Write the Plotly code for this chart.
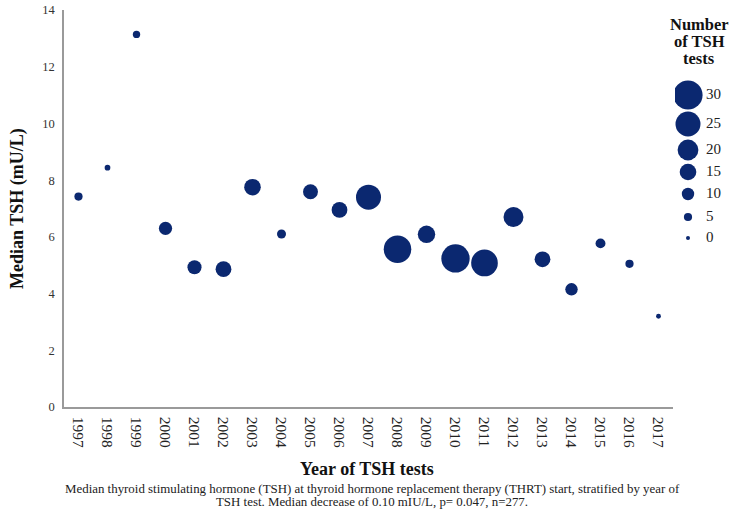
import plotly.graph_objects as go

years = [str(y) for y in range(1997, 2018)]
median_tsh = [7.42, 8.44, 13.14, 6.30, 4.93, 4.86, 7.75, 6.10, 7.59, 6.95, 7.40,
              5.56, 6.09, 5.24, 5.08, 6.70, 5.21, 4.15, 5.77, 5.05, 3.20]
n_tests = [5, 2, 4, 11, 12, 14, 15, 6, 13, 14, 25, 28, 16, 29, 27, 19, 14, 10, 7, 5, 1]
legend_counts = [30, 25, 20, 15, 10, 5, 0]

COLOR = "#0b2870"
FONT = "Liberation Serif"
OFF = 0  # page body margin removed via post_script
W, H = 736 - OFF, 519 - OFF
AX_LEFT, AX_TOP, AX_BOTTOM, AX_RIGHT = 64, 10, 407, 673  # reference pixels
L, T = AX_LEFT - OFF, AX_TOP - OFF
B = H - (AX_BOTTOM - OFF)
R = 0
PW, PH = W - L - R, H - T - B


def size_of(n):
    return 4 + 0.84 * n


def px_x(ref_px):
    return (ref_px - OFF - L) / PW


def px_y(ref_py):
    return (AX_BOTTOM - ref_py) / PH


fig = go.Figure()
fig.add_trace(go.Scatter(
    x=years, y=median_tsh, mode="markers",
    marker=dict(size=[size_of(n) for n in n_tests], color=COLOR, opacity=1, line=dict(width=0)),
    showlegend=False, hoverinfo="x+y",
))

# size legend on a helper axis expressed in reference-pixel units
leg_y = [95, 124, 150, 172, 194, 217, 238]
x2_lo = AX_RIGHT + 2
fig.add_trace(go.Scatter(
    x=[688] * len(legend_counts), y=leg_y, mode="markers",
    marker=dict(size=[size_of(n) for n in legend_counts], color=COLOR, opacity=1, line=dict(width=0)),
    xaxis="x2", yaxis="y2", showlegend=False, hoverinfo="skip",
))
fig.add_trace(go.Scatter(
    x=[706] * len(legend_counts), y=leg_y, mode="text",
    text=[str(n) for n in legend_counts], textposition="middle right",
    textfont=dict(family=FONT, size=15, color="#222"),
    xaxis="x2", yaxis="y2", showlegend=False, hoverinfo="skip",
))

annotations = []
for txt, py in [("Number", 24), ("of TSH", 41), ("tests", 58)]:
    annotations.append(dict(text=f"<b>{txt}</b>", x=px_x(699), y=px_y(py), xref="paper", yref="paper",
                            xanchor="center", yanchor="middle", showarrow=False,
                            font=dict(family=FONT, size=16.5, color="#111")))
annotations.append(dict(text="<b>Median TSH (mU/L)</b>", x=px_x(18), y=px_y(209), xref="paper", yref="paper",
                        textangle=-90, xanchor="center", yanchor="middle", showarrow=False,
                        font=dict(family=FONT, size=18, color="#111")))
annotations.append(dict(text="<b>Year of TSH tests</b>", x=px_x(367), y=px_y(469), xref="paper", yref="paper",
                        xanchor="center", yanchor="middle", showarrow=False,
                        font=dict(family=FONT, size=18, color="#111")))
annotations.append(dict(text="Median thyroid stimulating hormone (TSH) at thyroid hormone replacement therapy (THRT) start, stratified by year of",
                        x=px_x(372), y=px_y(489), xref="paper", yref="paper",
                        xanchor="center", yanchor="middle", showarrow=False,
                        font=dict(family=FONT, size=12.9, color="#222")))
annotations.append(dict(text="TSH test. Median decrease of 0.10 mIU/L, p= 0.047, n=277.",
                        x=px_x(372), y=px_y(502), xref="paper", yref="paper",
                        xanchor="center", yanchor="middle", showarrow=False,
                        font=dict(family=FONT, size=12.9, color="#222")))

fig.update_layout(
    width=W, height=H, margin=dict(l=L, r=R, t=T, b=B, pad=0, autoexpand=False),
    paper_bgcolor="white", plot_bgcolor="white",
    font=dict(family=FONT, color="#222"),
    xaxis=dict(type="category", domain=[0, px_x(AX_RIGHT)], range=[-0.5, 20.5],
               showline=True, linecolor="#9a9a9a", linewidth=1.5, showgrid=False, zeroline=False,
               ticks="outside", ticklen=5, tickcolor="rgba(0,0,0,0)", tickangle=90,
               automargin=False,
               tickfont=dict(family=FONT, size=15.5, color="#222")),
    yaxis=dict(range=[0, 14], dtick=2, showline=True, linecolor="#9a9a9a", linewidth=1.5,
               showgrid=False, zeroline=False, ticks="outside", ticklen=5, tickcolor="rgba(0,0,0,0)",
               ticklabeloverflow="allow", automargin=False,
               tickfont=dict(family=FONT, size=12.5, color="#333")),
    xaxis2=dict(domain=[px_x(x2_lo), 1], range=[x2_lo, 736], visible=False, anchor="y2"),
    yaxis2=dict(domain=[0, 1], range=[AX_BOTTOM, AX_TOP], visible=False, anchor="x2"),
    annotations=annotations,
)

fig.write_html("out.html", config={"displayModeBar": False},
               post_script="document.body.style.margin='0';document.body.style.overflow='hidden';")
